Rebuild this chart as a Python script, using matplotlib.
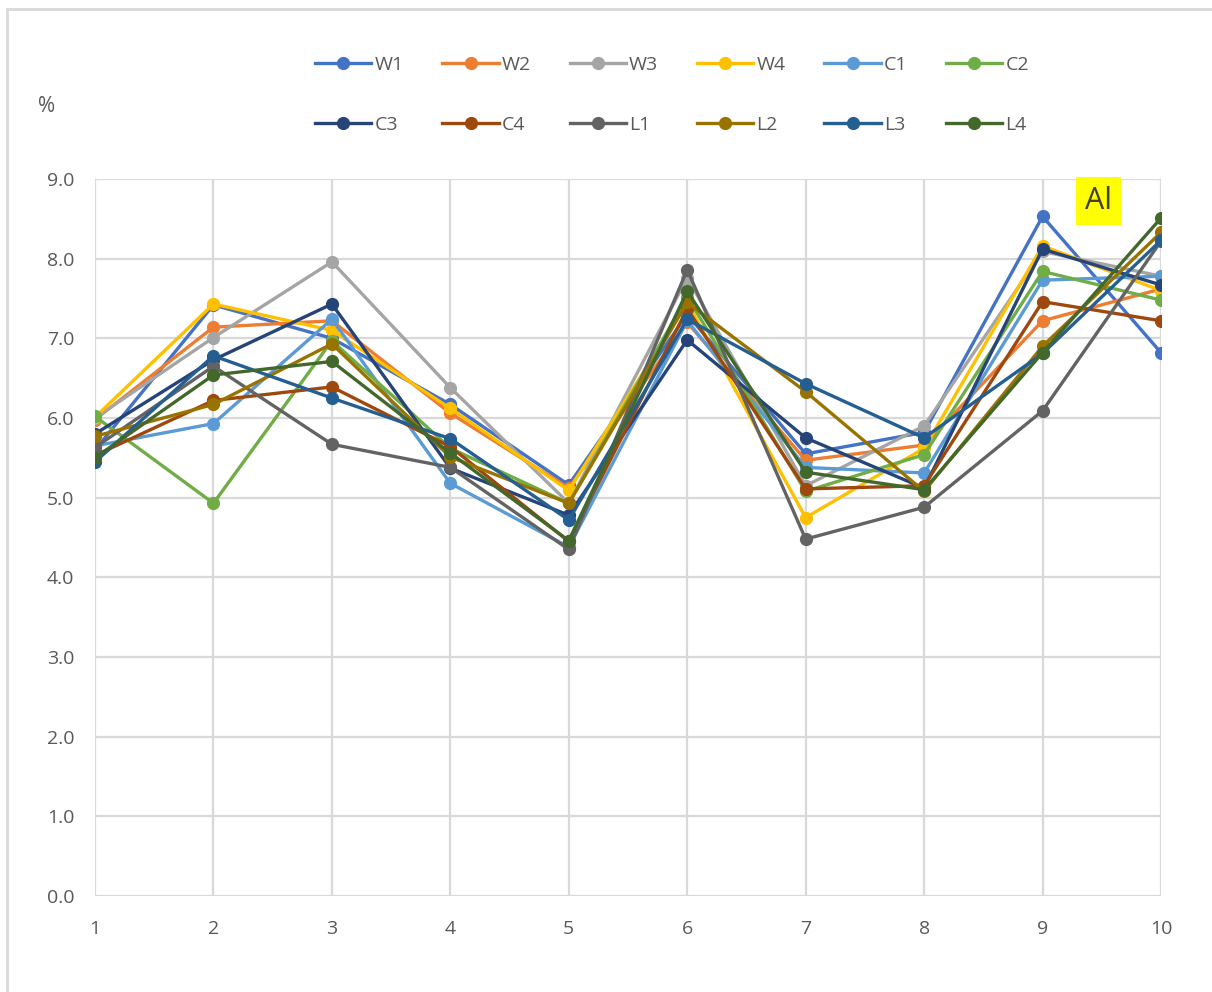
import matplotlib
matplotlib.use("Agg")
import matplotlib.pyplot as plt
from matplotlib.lines import Line2D

# sample positions along the profile
x = [1, 2, 3, 4, 5, 6, 7, 8, 9, 10]

W1 = [5.60, 7.42, 7.00, 6.17, 5.16, 7.30, 5.55, 5.82, 8.53, 6.82]
W2 = [5.98, 7.14, 7.22, 6.06, 5.12, 7.20, 5.47, 5.66, 7.22, 7.62]
W3 = [6.00, 7.01, 7.96, 6.38, 4.93, 7.76, 5.15, 5.90, 8.09, 7.78]
W4 = [6.01, 7.43, 7.10, 6.12, 5.09, 7.45, 4.75, 5.62, 8.16, 7.60]
C1 = [5.65, 5.93, 7.24, 5.18, 4.38, 7.22, 5.38, 5.31, 7.73, 7.78]
C2 = [6.02, 4.93, 6.97, 5.62, 4.93, 7.52, 5.08, 5.54, 7.84, 7.48]
C3 = [5.80, 6.73, 7.43, 5.37, 4.78, 6.98, 5.75, 5.12, 8.12, 7.67]
C4 = [5.53, 6.22, 6.39, 5.64, 4.45, 7.37, 5.11, 5.15, 7.46, 7.22]
L1 = [5.63, 6.65, 5.67, 5.38, 4.35, 7.86, 4.48, 4.88, 6.09, 8.22]
L2 = [5.77, 6.17, 6.93, 5.51, 4.93, 7.45, 6.33, 5.08, 6.90, 8.33]
L3 = [5.45, 6.78, 6.25, 5.74, 4.72, 7.24, 6.43, 5.75, 6.81, 8.23]
L4 = [5.50, 6.54, 6.71, 5.56, 4.46, 7.59, 5.32, 5.10, 6.82, 8.51]

names = ["W1", "W2", "W3", "W4", "C1", "C2", "C3", "C4", "L1", "L2", "L3", "L4"]
series = [W1, W2, W3, W4, C1, C2, C3, C4, L1, L2, L3, L4]
colors = ["#4472C4", "#ED7D31", "#A5A5A5", "#FFC000", "#5B9BD5", "#70AD47",
          "#264478", "#9E480E", "#636363", "#997300", "#255E91", "#43682B"]

plt.rcParams['font.family'] = ['Open Sans', 'DejaVu Sans']
txt = "#595959"
grid = "#D9D9D9"

fig = plt.figure(figsize=(12.12, 9.92), dpi=100)
ax = fig.add_axes([95 / 1212, 1 - 896 / 992, (1161 - 95) / 1212, (896 - 179) / 992])

for name, vals, c in zip(names, series, colors):
    ax.plot(x, vals, color=c, lw=2.4, marker='o', ms=8.5, label=name, zorder=3)

ax.set_xlim(1, 10)
ax.set_ylim(0, 9)
ax.set_xticks(x)
ax.set_yticks(range(10))
ax.set_yticklabels(["%.1f" % v for v in range(10)])
ax.grid(True, color=grid, lw=1.6)
for s in ax.spines.values():
    s.set_visible(False)
ax.tick_params(length=0, labelsize=14, colors=txt)
ax.tick_params(axis='x', pad=17)
ax.tick_params(axis='y', pad=15)

fig.text(47 / 1212, 1 - 107 / 992, "%", fontsize=15, color=txt, ha='center', va='center')
ax.text(9.47, 8.72, "Al", fontsize=22, color="#404040", ha='center', va='center',
        bbox=dict(boxstyle='square,pad=0.3', fc='#FFFF00', ec='none'), zorder=5)

# legend is filled column by column, so interleave the two rows
handles = [Line2D([], [], color=c, lw=2.4, marker='o', ms=8.5) for c in colors]
order = [i + 6 * r for i in range(6) for r in range(2)]
fig.legend([handles[i] for i in order], [names[i] for i in order], ncol=6, loc='center',
           bbox_to_anchor=(672 / 1212, 1 - 95 / 992),
           frameon=False, fontsize=14, labelcolor=txt, handlelength=2.9,
           handletextpad=0.15, columnspacing=2.0, labelspacing=2.15)

# chart area border (left and top edges)
fig.add_artist(Line2D([7 / 1212, 7 / 1212], [0, 1 - 9 / 992], color=grid, lw=2,
                      transform=fig.transFigure))
fig.add_artist(Line2D([7 / 1212, 1], [1 - 9 / 992, 1 - 9 / 992], color=grid, lw=2,
                      transform=fig.transFigure))

fig.savefig("out.png", dpi=100)
